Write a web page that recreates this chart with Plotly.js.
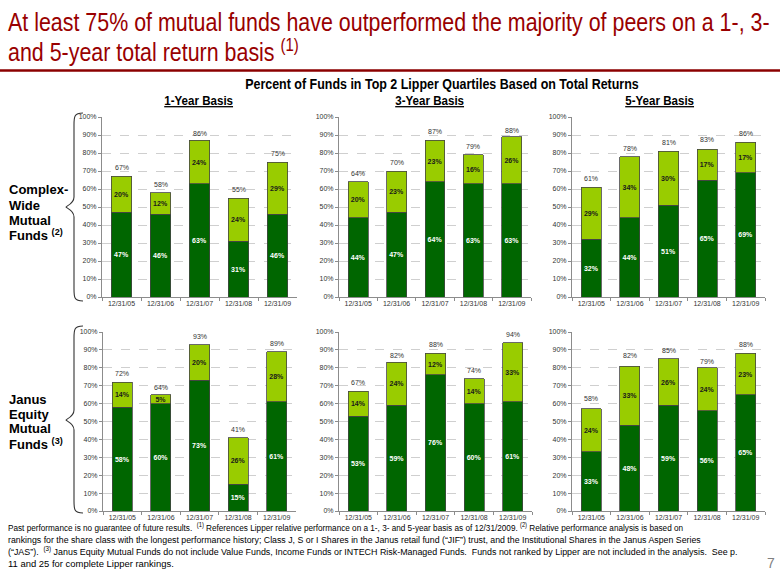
<!DOCTYPE html>
<html>
<head>
<meta charset="utf-8">
<script src="https://cdn.plot.ly/plotly-3.0.1.min.js"></script>
<style>html,body{margin:0;padding:0;background:#fff;}#chart{width:780px;height:585px;}</style>
</head>
<body>
<div id="chart"></div>
<script>
// ---------- DATA ----------
const dates = ['12/31/05', '12/31/06', '12/31/07', '12/31/08', '12/31/09'];

// Complex-Wide Mutual Funds
const cw1yQ1 = [47, 46, 63, 31, 46];
const cw1yQ2 = [20, 12, 24, 24, 29];
const cw1yTotal = [67, 58, 86, 55, 75];

const cw3yQ1 = [44, 47, 64, 63, 63];
const cw3yQ2 = [20, 23, 23, 16, 26];
const cw3yTotal = [64, 70, 87, 79, 88];

const cw5yQ1 = [32, 44, 51, 65, 69];
const cw5yQ2 = [29, 34, 30, 17, 17];
const cw5yTotal = [61, 78, 81, 83, 86];

// Janus Equity Mutual Funds
const je1yQ1 = [58, 60, 73, 15, 61];
const je1yQ2 = [14, 5, 20, 26, 28];
const je1yTotal = [72, 64, 93, 41, 89];

const je3yQ1 = [53, 59, 76, 60, 61];
const je3yQ2 = [14, 24, 12, 14, 33];
const je3yTotal = [67, 82, 88, 74, 94];

const je5yQ1 = [33, 48, 59, 56, 65];
const je5yQ2 = [24, 33, 26, 24, 23];
const je5yTotal = [58, 82, 85, 79, 88];

const yTicks = [0, 10, 20, 30, 40, 50, 60, 70, 80, 90, 100];

// ---------- LAYOUT HELPERS ----------
const W = 780, H = 585;
const px = x => x / W;
const py = y => 1 - y / H;

const panels = [
  {q1: cw1yQ1, q2: cw1yQ2, tot: cw1yTotal, x: [102, 297], y: [117, 297]},
  {q1: cw3yQ1, q2: cw3yQ2, tot: cw3yTotal, x: [339, 531], y: [117, 297]},
  {q1: cw5yQ1, q2: cw5yQ2, tot: cw5yTotal, x: [572, 765], y: [117, 297]},
  {q1: je1yQ1, q2: je1yQ2, tot: je1yTotal, x: [103, 296], y: [332, 511]},
  {q1: je3yQ1, q2: je3yQ2, tot: je3yTotal, x: [339, 532], y: [332, 511]},
  {q1: je5yQ1, q2: je5yQ2, tot: je5yTotal, x: [572, 765], y: [332, 511]}
];

const ARIAL = 'Liberation Sans, Arial, sans-serif';
const DARK = '#006600', LIGHT = '#99cc00';

const traces = [];
const layout = {
  width: W, height: H,
  margin: {l: 0, r: 0, t: 0, b: 0},
  paper_bgcolor: '#ffffff', plot_bgcolor: '#ffffff',
  barmode: 'stack', bargap: 0.48,
  showlegend: false,
  hovermode: false,
  font: {family: ARIAL, color: '#333333'},
  annotations: [], shapes: []
};
const A = layout.annotations;

panels.forEach((p, i) => {
  const s = i === 0 ? '' : String(i + 1);
  const xa = 'x' + s, ya = 'y' + s;
  traces.push({
    type: 'bar', x: dates, y: p.q1, xaxis: xa, yaxis: ya,
    marker: {color: DARK, line: {color: '#454545', width: 0.8}},
    text: p.q1.map(v => v + '%'), textposition: 'inside', insidetextanchor: 'middle',
    constraintext: 'none', textangle: 0,
    textfont: {family: ARIAL, size: 7, color: '#ffffff', weight: 'bold'}
  });
  traces.push({
    type: 'bar', x: dates, y: p.q2, xaxis: xa, yaxis: ya,
    marker: {color: LIGHT, line: {color: '#454545', width: 0.8}},
    text: p.q2.map(v => v + '%'), textposition: 'inside', insidetextanchor: 'middle',
    constraintext: 'none', textangle: 0,
    textfont: {family: ARIAL, size: 7, color: '#1a1a1a', weight: 'bold'}
  });
  // total labels above each stack, placed through the data axes
  p.tot.forEach((v, j) => A.push({
    text: v + '%', x: dates[j], y: v, xref: xa, yref: ya,
    showarrow: false, xanchor: 'center', yanchor: 'bottom', yshift: 3,
    font: {family: ARIAL, size: 7, color: '#333333'}
  }));
  layout['xaxis' + s] = {
    domain: [px(p.x[0]), px(p.x[1])], anchor: ya,
    showline: true, linecolor: '#8c8c8c', linewidth: 1,
    ticks: 'outside', tickson: 'boundaries', ticklen: 3, tickcolor: '#8c8c8c',
    tickfont: {family: ARIAL, size: 7, color: '#333333'},
    showgrid: false, fixedrange: true
  };
  layout['yaxis' + s] = {
    domain: [py(p.y[1]), py(p.y[0])], anchor: xa,
    range: [0, 100], tickvals: yTicks, ticktext: yTicks.map(v => v + '%'),
    showline: true, linecolor: '#8c8c8c', linewidth: 1,
    ticks: 'outside', ticklen: 3, tickcolor: '#8c8c8c',
    tickfont: {family: ARIAL, size: 7, color: '#333333'},
    showgrid: true, gridcolor: '#cfcfcf', griddash: 'dash', gridwidth: 1,
    zeroline: false, fixedrange: true
  };
});

// ---------- TEXT ----------
// condense[index] = {width: target px width (optional), group}
const condense = {};
const ann = (text, x, y, opts) => {
  A.push(Object.assign({
    text: text, x: px(x), y: py(y), xref: 'paper', yref: 'paper',
    showarrow: false, xanchor: 'left', yanchor: 'middle', align: 'left'
  }, opts || {}));
  return A.length - 1;
};

const t1 = ann('At least 75% of mutual funds have outperformed the majority of peers on a 1-, 3-', 6, 22,
    {font: {family: ARIAL, size: 25, color: '#990000'}});
const t2 = ann('and 5-year total return basis <sup>(1)</sup>', 6, 51,
    {font: {family: ARIAL, size: 25, color: '#990000'}});
condense[t1] = {width: 762, group: 'title'};
condense[t2] = {group: 'title'};

const h0 = ann('<b>Percent of Funds in Top 2 Lipper Quartiles Based on Total Returns</b>', 442, 84,
    {xanchor: 'center', font: {family: ARIAL, size: 14, color: '#000000'}});
condense[h0] = {width: 394, group: 'head'};
[['1-Year Basis', 198], ['3-Year Basis', 429], ['5-Year Basis', 659]].forEach(([t, x]) => {
  const k = ann('<b><u>' + t + '</u></b>', x, 100, {xanchor: 'center', font: {family: ARIAL, size: 13, color: '#000000'}});
  condense[k] = {group: 'head'};
});

['<b>Complex-</b>', '<b>Wide</b>', '<b>Mutual</b>', '<b>Funds <sup>(2)</sup></b>'].forEach((t, k) =>
  ann(t, 7, 190 + k * 15, {font: {family: ARIAL, size: 13, color: '#000000'}}));
['<b>Janus</b>', '<b>Equity</b>', '<b>Mutual</b>', '<b>Funds <sup>(3)</sup></b>'].forEach((t, k) =>
  ann(t, 7, 399 + k * 15, {font: {family: ARIAL, size: 13, color: '#000000'}}));

const foot = [
  'Past performance is no guarantee of future results.  <sup>(1)</sup> References Lipper relative performance on a 1-, 3- and 5-year basis as of 12/31/2009. <sup>(2)</sup> Relative performance analysis is based on',
  'rankings for the share class with the longest performance history; Class J, S or I Shares in the Janus retail fund (\u201cJIF\u201d) trust, and the Institutional Shares in the Janus Aspen Series',
  '(\u201cJAS\u201d).  <sup>(3)</sup> Janus Equity Mutual Funds do not include Value Funds, Income Funds or INTECH Risk-Managed Funds.  Funds not ranked by Lipper are not included in the analysis.  See p.',
  '11 and 25 for complete Lipper rankings.'
];
const footWidths = [676, 694, 731, 166];
foot.forEach((t, k) => {
  const idx = ann(t, 6, 527 + k * 12, {font: {family: ARIAL, size: 9.5, color: '#000000'}});
  condense[idx] = {width: footWidths[k], group: 'foot' + k};
});
ann('7', 771, 563, {xanchor: 'center', font: {family: ARIAL, size: 14, color: '#808080'}});

// ---------- SHAPES ----------
layout.shapes.push({type: 'line', xref: 'paper', yref: 'paper', x0: 0, x1: 1, y0: py(70.5), y1: py(70.5),
  line: {color: '#8b0000', width: 2.5}});

function brace(top, bot, tip, xr, xv, xt) {
  const mid = tip;
  const p = [
    'M', px(xr), py(top),
    'C', px(xv), py(top), px(xv), py(top + 4), px(xv), py(top + 12),
    'L', px(xv), py(mid - 10),
    'C', px(xv), py(mid - 3), px(xt), py(mid - 1), px(xt), py(mid),
    'C', px(xt), py(mid + 1), px(xv), py(mid + 3), px(xv), py(mid + 10),
    'L', px(xv), py(bot - 12),
    'C', px(xv), py(bot - 4), px(xv), py(bot), px(xr), py(bot)
  ].join(' ');
  return {type: 'path', xref: 'paper', yref: 'paper', path: p, line: {color: '#333333', width: 1.1}};
}
layout.shapes.push(brace(113, 301, 207, 83, 74, 66));
layout.shapes.push(brace(326, 513, 420, 83, 74, 66));

// Condense (Arial Narrow look) selected annotation texts horizontally
function condenseTexts(gd) {
  const byIndex = {};
  gd.querySelectorAll('g.annotation').forEach(g => { byIndex[g.getAttribute('data-index')] = g; });
  const findText = i => byIndex[String(i)] && byIndex[String(i)].querySelector('text.annotation-text');
  const factors = {};
  Object.keys(condense).forEach(i => {
    const c = condense[i], txt = findText(+i);
    if (txt && c.width) factors[c.group] = c.width / txt.getBBox().width;
  });
  Object.keys(condense).forEach(i => {
    const c = condense[i], txt = findText(+i);
    if (!txt) return;
    const f = factors[c.group] || 0.82;
    const bb = txt.getBBox();
    const xa = A[i].xanchor === 'center' ? bb.x + bb.width / 2 : bb.x;
    const prev = txt.getAttribute('transform') || '';
    txt.setAttribute('transform', prev + ' translate(' + xa + ',0) scale(' + f + ',1) translate(' + (-xa) + ',0)');
  });
}

Plotly.newPlot('chart', traces, layout, {staticPlot: true, displayModeBar: false}).then(condenseTexts);
</script>
</body>
</html>
